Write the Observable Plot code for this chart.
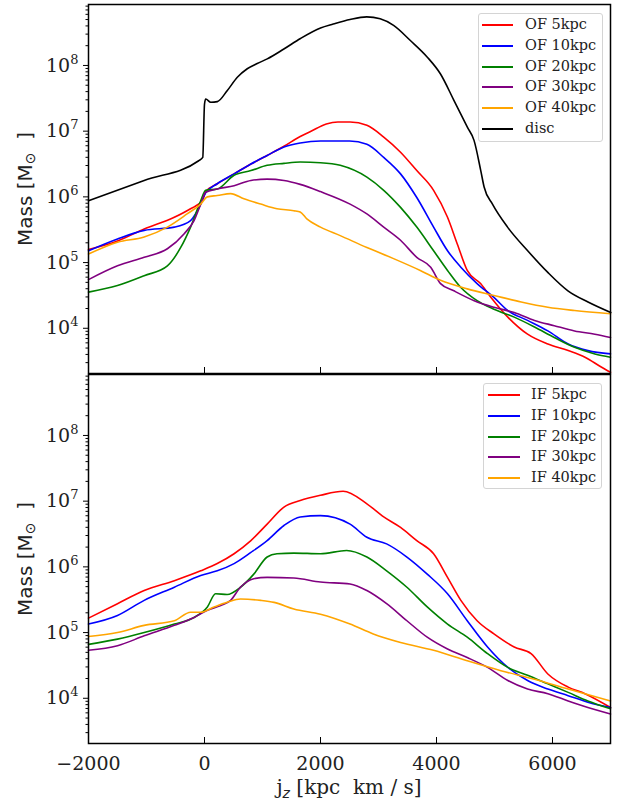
<!DOCTYPE html>
<html>
<head>
<meta charset="utf-8">
<script src="https://cdn.jsdelivr.net/npm/d3@7"></script>
<script src="https://cdn.jsdelivr.net/npm/@observablehq/plot@0.6"></script>
<style>
  body { margin: 0; background: #fff; }
  #wrap { position: relative; width: 619px; height: 803px; overflow: hidden; background: #fff; }
  .panel { position: absolute; left: 0; }
  .legend { position: absolute; border: 1px solid #d4d4d4; border-radius: 3px; background: rgba(255,255,255,0.85);
            font: 14.5px "DejaVu Serif", serif; color: #222; box-sizing: border-box; }
  .legend .row { height: 20.8px; line-height: 20.8px; white-space: nowrap; }
  .legend .sw { display: inline-block; height: 0; border-top: 2px solid; vertical-align: middle; }
  .ylab { position: absolute; white-space: pre; font: 20px "DejaVu Sans", sans-serif; color: #222;
          transform: translate(-50%, -50%) rotate(-90deg); }
  .ylab sub { font-size: 14px; vertical-align: -3px; }
  .xlab { position: absolute; white-space: pre; font: 20px "DejaVu Serif", serif; color: #222;
          transform: translate(-50%, -50%); }
  .xlab sub { font-size: 14px; vertical-align: -4px; font-style: italic; font-family: "DejaVu Sans", sans-serif; }
</style>
</head>
<body>
<div id="wrap"></div>
<script>
// ---------- data: [jz (kpc km/s), log10(Mass / Msun)] ----------
const ofNames = ["OF 5kpc", "OF 10kpc", "OF 20kpc", "OF 30kpc", "OF 40kpc", "disc"];
const ifNames = ["IF 5kpc", "IF 10kpc", "IF 20kpc", "IF 30kpc", "IF 40kpc"];
const ofColors = ["#ff0000", "#0000ff", "#008000", "#800080", "#ffa500", "#000000"];
const ifColors = ["#ff0000", "#0000ff", "#008000", "#800080", "#ffa500"];

const of5 = [[-2000,5.20],[-1500,5.33],[-1040,5.51],[-520,5.69],[-240,5.82],[-40,5.94],[20,6.08],[220,6.20],[510,6.35],[800,6.50],[1080,6.63],[1370,6.77],[1650,6.92],[1820,6.99],[2100,7.11],[2300,7.14],[2510,7.14],[2800,7.09],[3090,6.91],[3380,6.68],[3660,6.40],[3950,6.10],[4190,5.69],[4360,5.28],[4530,4.88],[4760,4.68],[4940,4.47],[5230,4.17],[5570,3.91],[5920,3.76],[6270,3.66],[6560,3.56],[6840,3.41],[7000,3.33]];
const of10 = [[-2000,5.18],[-1500,5.36],[-1040,5.49],[-520,5.54],[-240,5.64],[-65,5.89],[20,6.06],[220,6.20],[510,6.35],[800,6.50],[1080,6.63],[1370,6.76],[1650,6.82],[2000,6.85],[2500,6.85],[2800,6.80],[3090,6.60],[3380,6.35],[3660,5.99],[3950,5.54],[4190,5.18],[4420,4.93],[4700,4.68],[4990,4.47],[5230,4.27],[5570,4.12],[5920,3.96],[6270,3.76],[6610,3.66],[7000,3.61]];
const of20 = [[-2000,4.55],[-1500,4.65],[-1040,4.80],[-640,4.95],[-410,5.23],[-240,5.54],[-65,5.94],[20,6.10],[220,6.12],[510,6.33],[800,6.40],[1080,6.48],[1370,6.51],[1650,6.53],[2000,6.52],[2340,6.48],[2800,6.30],[3090,6.10],[3380,5.84],[3660,5.54],[3950,5.18],[4190,4.88],[4420,4.62],[4700,4.42],[4990,4.29],[5340,4.17],[5690,4.02],[6030,3.86],[6380,3.71],[6730,3.61],[7000,3.56]];
const of30 = [[-2000,4.74],[-1500,4.95],[-1040,5.08],[-640,5.21],[-350,5.44],[-180,5.64],[-65,5.89],[20,6.07],[220,6.12],[510,6.17],[800,6.25],[1080,6.27],[1370,6.25],[1650,6.19],[2000,6.08],[2510,5.89],[2800,5.74],[3090,5.54],[3380,5.34],[3660,5.08],[3900,4.93],[4070,4.68],[4300,4.57],[4650,4.42],[4990,4.32],[5340,4.24],[5690,4.12],[6030,4.04],[6380,3.96],[6730,3.91],[7000,3.86]];
const of40 = [[-2000,5.13],[-1500,5.31],[-1040,5.39],[-640,5.54],[-300,5.74],[-65,5.89],[50,6.00],[220,6.02],[450,6.05],[680,5.97],[970,5.89],[1250,5.82],[1540,5.79],[1650,5.77],[1770,5.66],[2000,5.54],[2340,5.41],[2800,5.23],[3260,5.06],[3720,4.88],[4070,4.73],[4530,4.60],[4990,4.50],[5460,4.40],[5920,4.32],[6380,4.27],[7000,4.22]];
const disc = [[-2000,5.94],[-1040,6.25],[-100,6.55],[-30,6.60],[0,7.41],[21,7.49],[107,7.44],[222,7.45],[394,7.62],[566,7.82],[737,7.95],[909,8.03],[1082,8.10],[1368,8.25],[1655,8.41],[2000,8.57],[2220,8.63],[2509,8.70],[2797,8.74],[3029,8.71],[3260,8.61],[3549,8.38],[3838,8.13],[4069,7.87],[4300,7.47],[4532,7.06],[4647,6.86],[4763,6.40],[4821,6.15],[4965,5.89],[5225,5.54],[5572,5.18],[5919,4.85],[6266,4.57],[6612,4.40],[7005,4.24]];

const if5 = [[-2000,5.22],[-1500,5.44],[-1040,5.64],[-520,5.79],[-65,5.94],[220,6.05],[510,6.20],[800,6.40],[1080,6.65],[1370,6.91],[1650,7.01],[2000,7.09],[2390,7.15],[2800,6.96],[3090,6.76],[3380,6.60],[3660,6.40],[3950,6.20],[4190,5.84],[4420,5.49],[4700,5.18],[4990,4.98],[5340,4.78],[5630,4.68],[5920,4.37],[6270,4.17],[6560,4.07],[7000,3.86]];
const if10 = [[-2000,5.13],[-1500,5.26],[-1040,5.49],[-520,5.69],[-65,5.87],[220,5.94],[510,6.05],[800,6.22],[1080,6.40],[1370,6.63],[1650,6.76],[2000,6.78],[2510,6.65],[2800,6.45],[3140,6.35],[3490,6.15],[3840,5.89],[4190,5.59],[4530,5.18],[4880,4.78],[5230,4.47],[5570,4.27],[5920,4.14],[6270,4.04],[6610,3.94],[7000,3.86]];
const if20 = [[-2000,4.82],[-1500,4.90],[-1040,5.00],[-520,5.13],[-180,5.23],[50,5.39],[190,5.59],[390,5.58],[620,5.69],[850,5.89],[1080,6.15],[1250,6.20],[1540,6.21],[2000,6.20],[2450,6.25],[2800,6.15],[3140,5.94],[3490,5.69],[3840,5.39],[4190,5.13],[4530,4.93],[4880,4.68],[5230,4.47],[5570,4.35],[5920,4.22],[6270,4.09],[6610,3.96],[7000,3.84]];
const if30 = [[-2000,4.73],[-1500,4.80],[-1040,4.95],[-520,5.11],[-180,5.23],[50,5.34],[280,5.41],[450,5.49],[620,5.69],[850,5.82],[1080,5.84],[1540,5.83],[2000,5.77],[2510,5.74],[2800,5.64],[3140,5.44],[3490,5.18],[3840,4.93],[4190,4.75],[4530,4.62],[4880,4.47],[5230,4.27],[5570,4.14],[5920,4.07],[6270,3.96],[6610,3.86],[7000,3.76]];
const if40 = [[-2000,4.94],[-1500,5.00],[-1040,5.11],[-520,5.18],[-240,5.31],[-65,5.31],[165,5.39],[390,5.46],[620,5.51],[970,5.49],[1200,5.46],[1540,5.36],[2000,5.28],[2510,5.13],[2910,4.98],[3380,4.85],[3950,4.73],[4530,4.57],[5110,4.42],[5690,4.29],[6270,4.14],[7000,3.96]];

const xTicks = [-2000, 0, 2000, 4000, 6000];
const yMajor = [1e4, 1e5, 1e6, 1e7, 1e8];
const xDomain = [-2000, 7000];
const yDomain = [2050, 8.47e8];

// ---------- build ----------
const yMinor = [];
for (let e = 3; e <= 8; e++) for (let m = 2; m <= 9; m++) {
  const v = m * 10 ** e;
  if (v >= yDomain[0] && v <= yDomain[1]) yMinor.push(v);
}
function table(names, series) {
  return series.flatMap((pts, i) => pts.map(([jz, lm]) => ({name: names[i], jz, mass: 10 ** lm})));
}
const ofData = table(ofNames, [of5, of10, of20, of30, of40, disc]);
const ifData = table(ifNames, [if5, if10, if20, if30, if40]);

const serif = "DejaVu Serif";
function panel(data, names, colors, opts) {
  const marks = [
    Plot.line(data, {x: "jz", y: "mass", z: "name", stroke: "name", strokeWidth: 1.6, curve: "monotone-x"}),
    Plot.frame({stroke: "black", strokeWidth: 1.5}),
    Plot.axisY(yMajor, {tickSize: 5, tickPadding: 5, fontSize: 19, fontFamily: serif, stroke: "black", fill: "#222",
      tickFormat: d => "10^" + Math.round(Math.log10(d)), label: null}),
    Plot.axisY(yMinor, {tickSize: 2.5, fill: "none", stroke: "black", label: null}),
    Plot.axisX(xTicks, {tickSize: 6, dy: -6, fill: "none", stroke: "black", label: null})
  ];
  if (opts.xLabels) {
    marks.push(Plot.axisX(xTicks, {tickSize: 0, tickPadding: 13, fontSize: 19, fontFamily: serif, fill: "#222",
      tickFormat: d3.format("d"), label: null}));
  }
  const svg = Plot.plot({
    width: 619, height: opts.height,
    marginTop: opts.marginTop, marginBottom: opts.marginBottom, marginLeft: 88, marginRight: 9,
    style: {background: "transparent", color: "black", overflow: "visible"},
    x: {domain: xDomain, label: null},
    y: {type: "log", domain: yDomain, label: null},
    color: {domain: names, range: colors},
    marks
  });
  // superscript exponents on y tick labels
  svg.querySelectorAll('[aria-label="y-axis tick label"] text').forEach(t => {
    const parts = t.textContent.split("^");
    if (parts.length !== 2) return;
    t.textContent = parts[0];
    const s = document.createElementNS("http://www.w3.org/2000/svg", "tspan");
    s.setAttribute("dy", "-8");
    s.setAttribute("font-size", "13");
    s.textContent = parts[1];
    t.appendChild(s);
  });
  return svg;
}

const wrap = document.getElementById("wrap");
const topSvg = panel(ofData, ofNames, ofColors, {height: 373, marginTop: 4, marginBottom: 0, xLabels: false});
topSvg.classList.add("panel"); topSvg.style.top = "0px";
wrap.appendChild(topSvg);
const botSvg = panel(ifData, ifNames, ifColors, {height: 430, marginTop: 1, marginBottom: 60, xLabels: true});
botSvg.classList.add("panel"); botSvg.style.top = "373px";
wrap.appendChild(botSvg);

function legend(names, colors, box) {
  const d = document.createElement("div");
  d.className = "legend";
  Object.assign(d.style, {left: box.left + "px", top: box.top + "px", width: box.width + "px", height: box.height + "px"});
  names.forEach((n, i) => {
    const r = document.createElement("div");
    r.className = "row";
    const sw = document.createElement("span");
    sw.className = "sw";
    Object.assign(sw.style, {borderTopColor: colors[i], width: box.sw + "px", marginLeft: box.pad + "px", marginRight: box.gap + "px"});
    r.appendChild(sw);
    r.appendChild(document.createTextNode(n));
    d.appendChild(r);
  });
  wrap.appendChild(d);
}
legend(ofNames, ofColors, {left: 478, top: 13, width: 125, height: 129, sw: 31, pad: 3, gap: 12});
legend(ifNames, ifColors, {left: 483, top: 383, width: 119, height: 106, sw: 32, pad: 4, gap: 11});

function ylab(cy) {
  const d = document.createElement("div");
  d.className = "ylab";
  d.innerHTML = "Mass [M<sub>⊙</sub>  ]";
  d.style.left = "25px"; d.style.top = cy + "px";
  wrap.appendChild(d);
}
ylab(188.5);
ylab(558.5);
const xl = document.createElement("div");
xl.className = "xlab";
xl.innerHTML = "j<sub>z</sub> [kpc  km / s]";
xl.style.left = "349px"; xl.style.top = "788px";
wrap.appendChild(xl);
</script>
</body>
</html>
